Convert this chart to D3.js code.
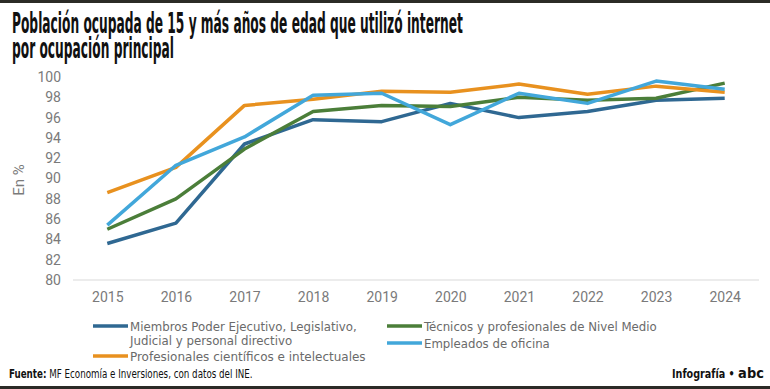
<!DOCTYPE html>
<html>
<head>
<meta charset="utf-8">
<script src="https://cdn.jsdelivr.net/npm/d3@7"></script>
<style>
  body { margin: 0; background: #fff; }
  svg { display: block; }
</style>
</head>
<body>
<div id="graph"></div>
<script>
// data
var years = ['2015', '2016', '2017', '2018', '2019', '2020', '2021', '2022', '2023', '2024'];
var yTicks = [80, 82, 84, 86, 88, 90, 92, 94, 96, 98, 100];

var miembros      = [83.6, 85.6, 93.4, 95.8, 95.6, 97.4, 96.0, 96.6, 97.7, 97.9];
var tecnicos      = [85.0, 88.0, 92.9, 96.6, 97.2, 97.1, 98.0, 97.7, 97.9, 99.4];
var profesionales = [88.6, 91.1, 97.2, 97.8, 98.6, 98.5, 99.3, 98.3, 99.1, 98.5];
var empleados     = [85.4, 91.3, 94.1, 98.2, 98.4, 95.3, 98.4, 97.4, 99.6, 98.8];

var seriesNames = ['Miembros Poder Ejecutivo, Legislativo,|Judicial y personal directivo',
                   'Profesionales científicos e intelectuales',
                   'Técnicos y profesionales de Nivel Medio',
                   'Empleados de oficina'];
var seriesColors = ['#2f6892', '#e8911f', '#4b7e39', '#42a7da'];
var seriesValues = [miembros, profesionales, tecnicos, empleados];

var W = 770, H = 389;
var condensed = '"DejaVu Sans Condensed", "DejaVu Sans", sans-serif';
var plain = 'Roboto, "Open Sans", sans-serif';

var svg = d3.select('#graph')
            .append('svg')
            .attr('width', W)
            .attr('height', H);

// squeeze a text horizontally so it is 'width' wide
function squeeze (g, text, x, width)
{
    var w = text.node().getComputedTextLength();
    g.attr('transform', 'translate(' + x + ',0) scale(' + (width / w) + ',1)');
}

// dark bars top and bottom
svg.append('rect').attr('x', 0).attr('y', 0).attr('width', W).attr('height', 3).attr('fill', '#2b2b26');
svg.append('rect').attr('x', 0).attr('y', 386).attr('width', W).attr('height', 3).attr('fill', '#2b2b26');

// title, two lines squeezed by the same factor
var titleLines = ['Población ocupada de 15 y más años de edad que utilizó internet', 'por ocupación principal'];
var gTitle = svg.append('g');
var tLines = titleLines.map(function(s, j) {
    return gTitle.append('text')
                 .attr('x', 0)
                 .attr('y', 33 + j * 25)
                 .attr('font-family', condensed)
                 .attr('font-weight', 'bold')
                 .attr('font-size', 27.5)
                 .attr('fill', '#111')
                 .text(s);
});
squeeze(gTitle, tLines[0], 12, 451);

// scales
var xScale = d3.scalePoint()
               .domain(years)
               .range([73, 759])
               .padding(0.5);

var yScale = d3.scaleLinear()
               .domain([80, 100])
               .range([280, 77]);

// baseline
svg.append('line')
   .attr('x1', 73).attr('x2', 759)
   .attr('y1', yScale(80)).attr('y2', yScale(80))
   .attr('stroke', '#d9d9d9').attr('stroke-width', 1);

// y axis
var yAxis = d3.axisLeft(yScale).tickValues(yTicks).tickSize(0).tickPadding(0);
var gy = svg.append('g')
            .attr('transform', 'translate(61,0)')
            .call(yAxis);
gy.select('.domain').remove();
gy.selectAll('text')
  .attr('font-family', plain)
  .attr('font-size', 14)
  .attr('fill', '#7a7a7a');

// x axis
var xAxis = d3.axisBottom(xScale).tickSize(0).tickPadding(0);
var gx = svg.append('g')
            .attr('transform', 'translate(0,292)')
            .call(xAxis);
gx.select('.domain').remove();
gx.selectAll('text')
  .attr('font-family', plain)
  .attr('font-size', 14)
  .attr('fill', '#7a7a7a');

// y label
svg.append('text')
   .attr('transform', 'translate(24,180) rotate(-90)')
   .attr('text-anchor', 'middle')
   .attr('font-family', plain)
   .attr('font-size', 15)
   .attr('fill', '#7a7a7a')
   .text('En %');

// lines
var line = d3.line()
             .x(function(d, i) { return xScale(years[i]); })
             .y(function(d) { return yScale(d); });

var drawOrder = [0, 2, 1, 3];
drawOrder.forEach(function(k) {
    svg.append('path')
       .datum(seriesValues[k])
       .attr('d', line)
       .attr('fill', 'none')
       .attr('stroke', seriesColors[k])
       .attr('stroke-width', 3.5)
       .attr('stroke-linejoin', 'round');
});

// legend
var legendPos = [
    { x: 93,  y: 326, w: 227 },
    { x: 93,  y: 356, w: 236 },
    { x: 387, y: 326, w: 233 },
    { x: 387, y: 343, w: 126 }
];

seriesNames.forEach(function(name, i) {
    var p = legendPos[i];
    svg.append('line')
       .attr('x1', p.x).attr('x2', p.x + 35)
       .attr('y1', p.y).attr('y2', p.y)
       .attr('stroke', seriesColors[i])
       .attr('stroke-width', 3.5);

    var g = svg.append('g');
    var parts = name.split('|').map(function(part, j) {
        return g.append('text')
                .attr('x', 0)
                .attr('y', p.y + 5 + j * 14)
                .attr('font-family', condensed)
                .attr('font-size', 12.5)
                .attr('fill', '#6a6a6a')
                .text(part);
    });
    squeeze(g, parts[0], p.x + 37, p.w);
});

// footer
var gSrc = svg.append('g');
var src = gSrc.append('text')
              .attr('y', 378)
              .attr('font-family', condensed)
              .attr('font-size', 11.5)
              .attr('fill', '#111');
src.append('tspan').attr('font-weight', 'bold').text('Fuente:');
src.append('tspan').text(' MF Economía e Inversiones, con datos del INE.');
squeeze(gSrc, src, 9, 244);

var gCred = svg.append('g');
var cred = gCred.append('text')
                .attr('y', 378)
                .attr('font-family', condensed)
                .attr('font-size', 11.5)
                .attr('fill', '#111');
cred.append('tspan').attr('font-weight', 'bold').text('Infografía • ');
cred.append('tspan')
    .attr('font-family', '"DejaVu Sans", sans-serif')
    .attr('font-weight', 'bold')
    .attr('font-size', 14)
    .text('abc');
squeeze(gCred, cred, 672, 92);
</script>
</body>
</html>
